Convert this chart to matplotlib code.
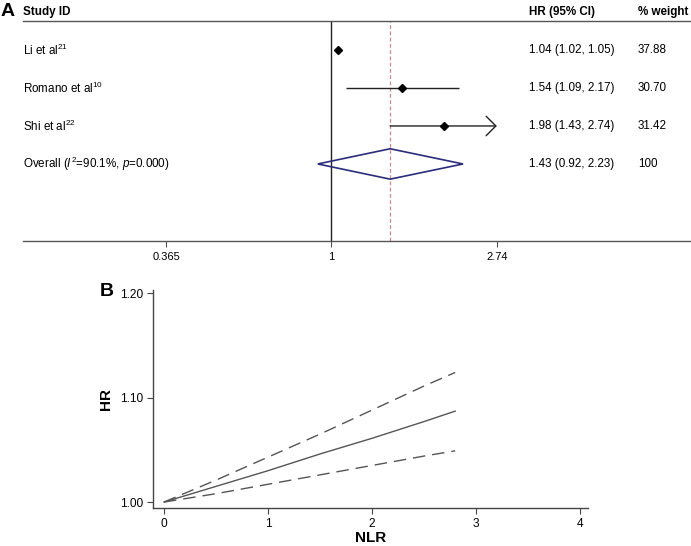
import numpy as np
import matplotlib.pyplot as plt
from matplotlib.transforms import blended_transform_factory

plt.rcParams["font.family"] = ["Liberation Sans", "DejaVu Sans"]
plt.rcParams["mathtext.fontset"] = "custom"
plt.rcParams["mathtext.rm"] = "Liberation Sans"
plt.rcParams["mathtext.it"] = "Liberation Sans:italic"
plt.rcParams["mathtext.bf"] = "Liberation Sans:bold"

W, H = 691, 546

# Panel A: forest plot data
studies = ["Li et al$^{21}$", "Romano et al$^{10}$", "Shi et al$^{22}$"]
hr = [1.04, 1.54, 1.98]
ci_lo = [1.02, 1.09, 1.43]
ci_hi = [1.05, 2.17, 2.74]
weights = ["37.88", "30.70", "31.42"]
overall_label = "Overall ($I^2$=90.1%, $p$=0.000)"
overall_hr, overall_lo, overall_hi = 1.43, 0.92, 2.23
overall_weight = "100"
forest_ticks = [0.365, 1, 2.74]
forest_ticklabels = ["0.365", "1", "2.74"]

# Panel B: dose-response curve (HR vs NLR)
nlr = [0.0, 0.5, 1.0, 1.5, 2.0, 2.5, 2.8]
hr_mid = [1.000, 1.015, 1.030, 1.046, 1.061, 1.077, 1.087]
hr_upper = [1.000, 1.021, 1.043, 1.065, 1.088, 1.111, 1.124]
hr_lower = [1.000, 1.008, 1.017, 1.026, 1.035, 1.044, 1.049]


def fig_rect(left, top, right, bottom):
    return [left / W, 1 - bottom / H, (right - left) / W, (bottom - top) / H]


fig = plt.figure(figsize=(W / 100, H / 100), dpi=100)

# ---------- Panel A ----------
ax = fig.add_axes(fig_rect(23, 21, 691, 240.7))
ax.set_xscale("log")
ax.set_xlim(0.1525, 8.95)
ax.set_ylim(6.02, 0.237)
for s in ["left", "right"]:
    ax.spines[s].set_visible(False)
for s in ["top", "bottom"]:
    ax.spines[s].set_color("#555555")
    ax.spines[s].set_linewidth(1.0)
ax.set_yticks([])
ax.set_xticks(forest_ticks)
ax.set_xticklabels(forest_ticklabels, fontsize=8)
ax.xaxis.set_minor_locator(plt.NullLocator())
ax.tick_params(axis="x", length=4, width=0.8, color="#555555", pad=4)

ax.axvline(1, color="#222222", lw=1.0)
ax.axvline(overall_hr, color="#c48a8a", lw=0.9, ls=(0, (3, 2)))

rows = np.arange(1, len(studies) + 1)
# CI lines (last one runs off to the tick limit and gets an arrow)
ax.hlines(rows[:-1], ci_lo[:-1], ci_hi[:-1], color="#222222", lw=1.0)
ax.annotate("", xy=(ci_hi[-1], rows[-1]), xytext=(ci_lo[-1], rows[-1]),
            arrowprops=dict(arrowstyle="->,head_length=0.7,head_width=0.7",
                            color="#222222", lw=1.0, shrinkA=0, shrinkB=0))
ax.plot(hr, rows, "D", color="black", ms=4.5, zorder=5)

orow = len(studies) + 1
ax.fill([overall_lo, overall_hr, overall_hi, overall_hr],
        [orow, orow - 0.4, orow, orow + 0.4],
        facecolor="none", edgecolor="#2b2d7c", lw=1.2, zorder=4)

tr = blended_transform_factory(fig.transFigure, ax.transData)
col_label, col_hr, col_w = 23 / W, 529 / W, 638 / W
fs = 8.4
for r, name, h, lo, hi, w in zip(rows, studies, hr, ci_lo, ci_hi, weights):
    ax.text(col_label, r, name, transform=tr, va="center", fontsize=fs, clip_on=False)
    ax.text(col_hr, r, f"{h:.2f} ({lo:.2f}, {hi:.2f})", transform=tr,
            va="center", fontsize=fs, clip_on=False)
    ax.text(col_w, r, w, transform=tr, va="center", fontsize=fs, clip_on=False)
ax.text(col_label, orow, overall_label, transform=tr, va="center", fontsize=fs)
ax.text(col_hr, orow, f"{overall_hr:.2f} ({overall_lo:.2f}, {overall_hi:.2f})",
        transform=tr, va="center", fontsize=fs)
ax.text(col_w, orow, overall_weight, transform=tr, va="center", fontsize=fs)

# header row
ax.text(col_label, 0, "Study ID", transform=tr, va="center", fontsize=fs,
        fontweight="bold", clip_on=False)
ax.text(col_hr, 0, "HR (95% CI)", transform=tr, va="center", fontsize=fs,
        fontweight="bold", clip_on=False)
ax.text(col_w, 0, "% weight", transform=tr, va="center", fontsize=fs,
        fontweight="bold", clip_on=False)
fig.text(0.5 / W, 1 - 12 / H, "A", fontsize=14, fontweight="bold", va="center")

# ---------- Panel B ----------
bx = fig.add_axes(fig_rect(153, 290, 588, 508))
bx.set_xlim(-0.106, 4.077)
bx.set_ylim(0.9943, 1.2029)
for s in ["top", "right"]:
    bx.spines[s].set_visible(False)
for s in ["left", "bottom"]:
    bx.spines[s].set_color("#444444")
    bx.spines[s].set_linewidth(1.0)
bx.set_xticks([0, 1, 2, 3, 4])
bx.set_yticks([1.00, 1.10, 1.20])
bx.set_yticklabels(["1.00", "1.10", "1.20"])
bx.tick_params(length=4, width=0.8, color="#444444", labelsize=8.6, pad=3)

line_col = "#555555"
bx.plot(nlr, hr_mid, color=line_col, lw=1.0)
bx.plot(nlr, hr_upper, color=line_col, lw=1.0, dashes=(9, 5))
bx.plot(nlr, hr_lower, color=line_col, lw=1.0, dashes=(9, 5))

bx.set_xlabel("NLR", fontsize=11, fontweight="bold", labelpad=1)
bx.set_ylabel("HR", fontsize=11, fontweight="bold", labelpad=5)
fig.text(100 / W, 1 - 292 / H, "B", fontsize=14, fontweight="bold", va="center")

fig.savefig("out.png", dpi=100)
